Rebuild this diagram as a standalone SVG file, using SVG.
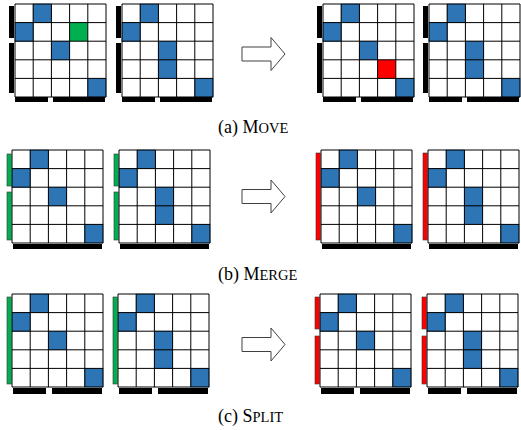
<svg xmlns="http://www.w3.org/2000/svg" xmlns:xlink="http://www.w3.org/1999/xlink" width="521" height="430" viewBox="0 0 521 430">
<style>
.bg{fill:#fff}
.blue{fill:#2E75B6;stroke:#1F4E79;stroke-width:0.6}
.green{fill:#00B050}
.red{fill:#FF0000}
.lines{fill:none;stroke:#000;stroke-width:1}
.kbar{fill:#000}
.gbar{fill:#00B050;stroke:#333;stroke-width:0.6}
.rbar{fill:#FF0000;stroke:#333;stroke-width:0.6}
.arrow{fill:#fff;stroke:#404040;stroke-width:1}
.lbl{font-family:"Liberation Serif","Times New Roman",serif;font-size:18px;fill:#000}
.sc{font-size:14.5px}
</style>
<defs>
<rect id="bgr" class="bg" x="0" y="0" width="91" height="93"/>
<path id="gl" class="lines" d="M0,0V93M18.2,0V93M36.4,0V93M54.6,0V93M72.8,0V93M91,0V93M0,0H91M0,18.6H91M0,37.2H91M0,55.8H91M0,74.4H91M0,93H91"/>
<g id="cellsA">
<rect class="blue" x="18.2" y="0" width="18.2" height="18.6"/>
<rect class="blue" x="0" y="18.6" width="18.2" height="18.6"/>
<rect class="blue" x="36.4" y="37.2" width="18.2" height="18.6"/>
<rect class="blue" x="72.8" y="74.4" width="18.2" height="18.6"/>
</g>
<g id="cellsB">
<use xlink:href="#cellsA"/>
<rect class="blue" x="36.4" y="55.8" width="18.2" height="18.6"/>
</g>
<polygon id="arr" class="arrow" points="242,-7 271,-7 271,-16.5 285,0 271,16.5 271,7 242,7"/>
</defs>

<!-- Row (a) -->
<g id="a1" transform="translate(15,4)">
<use xlink:href="#bgr"/><use xlink:href="#cellsA"/>
<rect class="green" x="54.6" y="18.6" width="18.2" height="18.6"/>
<use xlink:href="#gl"/>
<rect class="kbar" x="-6" y="2" width="5" height="32"/><rect class="kbar" x="-6" y="39" width="5" height="50"/>
<rect class="kbar" x="0" y="93" width="33" height="5"/><rect class="kbar" x="38" y="93" width="52" height="5"/>
</g>
<g id="a2" transform="translate(122,4)">
<use xlink:href="#bgr"/><use xlink:href="#cellsB"/><use xlink:href="#gl"/>
<rect class="kbar" x="-6" y="2" width="5" height="32"/><rect class="kbar" x="-6" y="39" width="5" height="50"/>
<rect class="kbar" x="0" y="93" width="33" height="5"/><rect class="kbar" x="38" y="93" width="52" height="5"/>
</g>
<g id="a3" transform="translate(323,4)">
<use xlink:href="#bgr"/><use xlink:href="#cellsA"/>
<rect class="red" x="54.6" y="55.8" width="18.2" height="18.6"/>
<use xlink:href="#gl"/>
<rect class="kbar" x="-6" y="2" width="5" height="32"/><rect class="kbar" x="-6" y="39" width="5" height="50"/>
<rect class="kbar" x="0" y="93" width="33" height="5"/><rect class="kbar" x="38" y="93" width="52" height="5"/>
</g>
<g id="a4" transform="translate(429,4)">
<use xlink:href="#bgr"/><use xlink:href="#cellsB"/><use xlink:href="#gl"/>
<rect class="kbar" x="-6" y="2" width="5" height="32"/><rect class="kbar" x="-6" y="39" width="5" height="50"/>
<rect class="kbar" x="0" y="93" width="33" height="5"/><rect class="kbar" x="38" y="93" width="52" height="5"/>
</g>

<!-- Row (b) -->
<g id="b1" transform="translate(12,150)">
<use xlink:href="#bgr"/><use xlink:href="#cellsA"/><use xlink:href="#gl"/>
<rect class="gbar" x="-5" y="4" width="4.5" height="32"/><rect class="gbar" x="-5" y="42" width="4.5" height="48"/>
<rect class="kbar" x="1" y="94" width="89" height="5"/>
</g>
<g id="b2" transform="translate(119,150)">
<use xlink:href="#bgr"/><use xlink:href="#cellsB"/><use xlink:href="#gl"/>
<rect class="gbar" x="-5" y="4" width="4.5" height="32"/><rect class="gbar" x="-5" y="42" width="4.5" height="48"/>
<rect class="kbar" x="1" y="94" width="89" height="5"/>
</g>
<g id="b3" transform="translate(321,150)">
<use xlink:href="#bgr"/><use xlink:href="#cellsA"/><use xlink:href="#gl"/>
<rect class="rbar" x="-5" y="3" width="4.5" height="87"/>
<rect class="kbar" x="1" y="94" width="89" height="5"/>
</g>
<g id="b4" transform="translate(428,150)">
<use xlink:href="#bgr"/><use xlink:href="#cellsB"/><use xlink:href="#gl"/>
<rect class="rbar" x="-5" y="3" width="4.5" height="87"/>
<rect class="kbar" x="1" y="94" width="89" height="5"/>
</g>

<!-- Row (c) -->
<g id="c1" transform="translate(12,294)">
<use xlink:href="#bgr"/><use xlink:href="#cellsA"/><use xlink:href="#gl"/>
<rect class="gbar" x="-5" y="3" width="4.5" height="87"/>
<rect class="kbar" x="1" y="94" width="33" height="6"/><rect class="kbar" x="40" y="94" width="50" height="6"/>
</g>
<g id="c2" transform="translate(118,294)">
<use xlink:href="#bgr"/><use xlink:href="#cellsB"/><use xlink:href="#gl"/>
<rect class="gbar" x="-5" y="3" width="4.5" height="87"/>
<rect class="kbar" x="1" y="94" width="33" height="6"/><rect class="kbar" x="40" y="94" width="50" height="6"/>
</g>
<g id="c3" transform="translate(320,294)">
<use xlink:href="#bgr"/><use xlink:href="#cellsA"/><use xlink:href="#gl"/>
<rect class="rbar" x="-5" y="3" width="4.5" height="32"/><rect class="rbar" x="-5" y="42" width="4.5" height="48"/>
<rect class="kbar" x="1" y="94" width="33" height="6"/><rect class="kbar" x="40" y="94" width="50" height="6"/>
</g>
<g id="c4" transform="translate(427,294)">
<use xlink:href="#bgr"/><use xlink:href="#cellsB"/><use xlink:href="#gl"/>
<rect class="rbar" x="-5" y="3" width="4.5" height="32"/><rect class="rbar" x="-5" y="42" width="4.5" height="48"/>
<rect class="kbar" x="1" y="94" width="33" height="6"/><rect class="kbar" x="40" y="94" width="50" height="6"/>
</g>

<g id="connectors">
<use xlink:href="#arr" transform="translate(0,54)"/>
<use xlink:href="#arr" transform="translate(0,196.5)"/>
<use xlink:href="#arr" transform="translate(0,344.5)"/>
</g>

<g id="labels">
<text class="lbl" x="218" y="133">(a) M<tspan class="sc">OVE</tspan></text>
<text class="lbl" x="218" y="280">(b) M<tspan class="sc">ERGE</tspan></text>
<text class="lbl" x="218" y="422">(c) S<tspan class="sc">PLIT</tspan></text>
</g>
</svg>
